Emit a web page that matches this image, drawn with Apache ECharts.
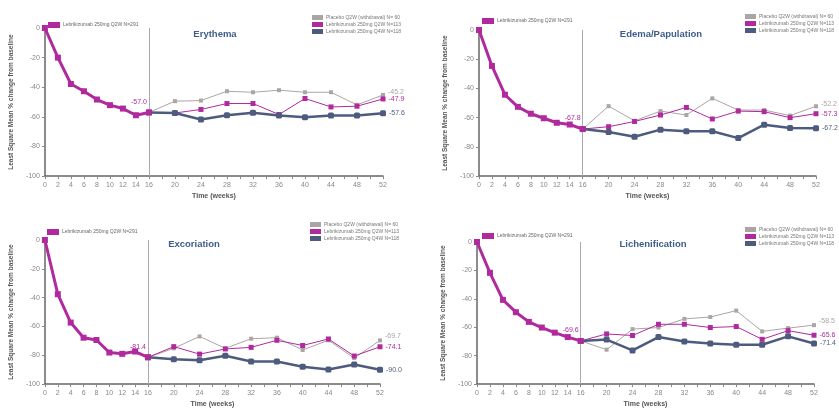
<!DOCTYPE html>
<html>
<head>
<meta charset="utf-8">
<script src="https://cdn.jsdelivr.net/npm/echarts@6/dist/echarts.min.js"></script>
<style>
  body { margin: 0; background: #fff; }
  .panel { position: absolute; }
</style>
</head>
<body>
<div id="p1" class="panel" style="left:0;top:0;width:420px;height:205px"></div>
<div id="p2" class="panel" style="left:420px;top:0;width:419px;height:205px"></div>
<div id="p3" class="panel" style="left:0;top:205px;width:420px;height:208px"></div>
<div id="p4" class="panel" style="left:420px;top:205px;width:419px;height:208px"></div>
<script>
// weeks
var inductionWeeks = [0, 2, 4, 6, 8, 10, 12, 14, 16];
var maintenanceWeeks = [16, 20, 24, 28, 32, 36, 40, 44, 48, 52];
var weekLabels = [0, 2, 4, 6, 8, 10, 12, 14, 16, 20, 24, 28, 32, 36, 40, 44, 48, 52];
var yTicks = [0, -20, -40, -60, -80, -100];

var seriesNames = ['Lebrikizumab 250mg Q2W N=291', 'Placebo Q2W (withdrawal) N= 60',
  'Lebrikizumab 250mg Q2W N=113', 'Lebrikizumab 250mg Q4W N=118'];

// Erythema
var erythemaInduction = [0, -20, -37.8, -42.7, -48.3, -52.1, -54.4, -58.9, -57.0];
var erythemaPlacebo = [-57.0, -49.4, -49, -42.7, -43.4, -42, -43.4, -43.4, -51.9, -45.2];
var erythemaQ2W = [-57.0, -57.4, -55, -51, -51, -58.4, -47.6, -53.3, -52.8, -47.9];
var erythemaQ4W = [-57.0, -57.4, -61.8, -58.9, -57.3, -59.1, -60.2, -59.1, -59.1, -57.6];

// Edema/Papulation
var edemaInduction = [0, -24.6, -44.3, -52.6, -57.3, -60.4, -63.5, -64.7, -67.8];
var edemaPlacebo = [-67.8, -52.1, -62.2, -55.5, -58.2, -46.8, -54.8, -54.8, -58.6, -52.2];
var edemaQ2W = [-67.8, -66.2, -62.6, -58.2, -53, -60.9, -55.5, -55.9, -60, -57.3];
var edemaQ4W = [-67.8, -69.8, -73.1, -68.2, -69.3, -69.3, -74, -64.8, -67.1, -67.2];

// Excoriation
var excoriationInduction = [0, -37.6, -57.3, -67.8, -69.4, -78.1, -79, -77.4, -81.4];
var excoriationPlacebo = [-81.4, -75.2, -66.9, -75.2, -68.5, -67.8, -76.3, -69.6, -81.9, -69.7];
var excoriationQ2W = [-81.4, -74, -79.2, -75.6, -74.5, -69.6, -73.2, -68.7, -80.5, -74.1];
var excoriationQ4W = [-81.4, -82.8, -83.4, -80.3, -84.3, -84.3, -87.9, -89.9, -86.4, -90.0];

// Lichenification
var lichenInduction = [0, -21.7, -40.7, -49.4, -56.2, -60.2, -63.8, -66.9, -69.6];
var lichenPlacebo = [-69.6, -75.8, -61.3, -60.2, -54.1, -52.8, -48.3, -62.9, -60.6, -58.5];
var lichenQ2W = [-69.6, -64.7, -65.8, -57.9, -57.9, -60.2, -59.5, -68.5, -62.4, -65.6];
var lichenQ4W = [-69.6, -68.7, -76.3, -66.9, -70, -71.4, -72.3, -72.3, -66.4, -71.4];

var magenta = '#b02a9e', grey = '#aba5a3', slate = '#4d5b7e';
var font = 'Liberation Sans';

function pairs(weeks, vals) {
  var out = [];
  for (var i = 0; i < weeks.length; i++) out.push([weeks[i], vals[i]]);
  return out;
}

function panel(box, title, lay, induction, placebo, q2w, q4w) {
  var myChart = echarts.init(document.getElementById(box));
  var last = maintenanceWeeks.length - 1;
  // label only the last point of a maintenance line
  function lastLabel(color, dy) {
    return {
      show: true, position: 'right', distance: 3, offset: [0, dy],
      color: color, fontSize: 7, fontFamily: font,
      formatter: function (p) { return p.dataIndex === last ? p.value[1].toFixed(1) : ''; }
    };
  }
  var option = {
    animation: false,
    textStyle: { fontFamily: font },
    title: {
      text: title, left: lay.titleX, top: lay.titleY, textAlign: 'center',
      textStyle: { color: '#3d5d8c', fontSize: 9.5, fontWeight: 'bold', fontFamily: font }
    },
    legend: [{
      data: [seriesNames[0]], left: lay.leg1[0], top: lay.leg1[1],
      icon: 'rect', itemWidth: 12, itemHeight: 6, itemGap: 2,
      textStyle: { fontSize: 5, color: '#666', padding: [0, 0, 0, -2] }
    }, {
      data: seriesNames.slice(1), left: lay.leg2[0], top: lay.leg2[1], orient: 'vertical',
      icon: 'rect', itemWidth: 11, itemHeight: 5, itemGap: 2,
      textStyle: { fontSize: 5, color: '#777', padding: [0, 0, 0, -2] }
    }],
    grid: { left: lay.grid[0], top: lay.grid[1], width: lay.grid[2], height: 149 },
    xAxis: {
      type: 'value', min: 0, max: 52, interval: 2,
      name: 'Time (weeks)', nameLocation: 'middle', nameGap: 16,
      nameTextStyle: { fontSize: 7, fontWeight: 'bold', color: '#555' },
      axisLine: { onZero: false, lineStyle: { color: '#666', width: 1.5 } },
      axisTick: { length: 3, lineStyle: { color: '#888' } },
      splitLine: { show: false },
      axisLabel: {
        fontSize: 7, color: '#888', margin: 5,
        formatter: function (v) { return weekLabels.indexOf(v) >= 0 ? v : ''; }
      }
    },
    yAxis: {
      type: 'value', min: -100, max: 0, interval: 20,
      name: 'Least Square Mean % change from baseline', nameLocation: 'middle', nameGap: 26,
      nameTextStyle: { fontSize: 6.5, fontWeight: 'bold', color: '#555' },
      axisLine: { show: true, onZero: false, lineStyle: { color: '#666', width: 1.5 } },
      axisTick: { show: true, length: 3, lineStyle: { color: '#888' } },
      splitLine: { show: false },
      axisLabel: {
        fontSize: 7, color: '#888', margin: 5,
        formatter: function (v) { return yTicks.indexOf(v) >= 0 ? v : ''; }
      }
    },
    series: [{
      name: seriesNames[1], type: 'line', data: pairs(maintenanceWeeks, placebo),
      symbol: 'rect', symbolSize: 4, z: 2,
      itemStyle: { color: grey }, lineStyle: { color: grey, width: 1 },
      label: lastLabel(grey, lay.off[0])
    }, {
      name: seriesNames[2], type: 'line', data: pairs(maintenanceWeeks, q2w),
      symbol: 'rect', symbolSize: 5, z: 3,
      itemStyle: { color: magenta }, lineStyle: { color: magenta, width: 1 },
      label: lastLabel(magenta, lay.off[1])
    }, {
      name: seriesNames[3], type: 'line', data: pairs(maintenanceWeeks, q4w),
      symbol: 'roundRect', symbolSize: 6, z: 4,
      itemStyle: { color: slate }, lineStyle: { color: slate, width: 2.5 },
      label: lastLabel(slate, lay.off[2])
    }, {
      name: seriesNames[0], type: 'line', data: pairs(inductionWeeks, induction),
      symbol: 'rect', symbolSize: 6, z: 5,
      itemStyle: { color: magenta }, lineStyle: { color: magenta, width: 3 },
      label: {
        show: true, position: 'top', distance: 4, offset: [-10, 0],
        color: magenta, fontSize: 7,
        formatter: function (p) { return p.dataIndex === inductionWeeks.length - 1 ? p.value[1].toFixed(1) : ''; }
      },
      markLine: {
        silent: true, symbol: 'none', label: { show: false },
        lineStyle: { color: '#aaa', width: 1, type: 'solid' },
        data: [{ xAxis: 16 }]
      }
    }]
  };
  myChart.setOption(option, true);
}

panel('p1', 'Erythema',
  { grid: [44, 28, 339], titleX: 210, titleY: 24, leg1: [43, 17], leg2: [307, 10], off: [-3, 0, 0] },
  erythemaInduction, erythemaPlacebo, erythemaQ2W, erythemaQ4W);
panel('p2', 'Edema/Papulation',
  { grid: [59, 30, 337], titleX: 236, titleY: 24, leg1: [57, 13], leg2: [320, 9], off: [-2, 0, 0] },
  edemaInduction, edemaPlacebo, edemaQ2W, edemaQ4W);
panel('p3', 'Excoriation',
  { grid: [43, 35, 337], titleX: 189, titleY: 29, leg1: [42, 19], leg2: [305, 12], off: [-4, 0, 0] },
  excoriationInduction, excoriationPlacebo, excoriationQ2W, excoriationQ4W);
panel('p4', 'Lichenification',
  { grid: [57, 37, 337], titleX: 228, titleY: 29, leg1: [57, 23], leg2: [320, 17], off: [-4, 0, 0] },
  lichenInduction, lichenPlacebo, lichenQ2W, lichenQ4W);
</script>
</body>
</html>
